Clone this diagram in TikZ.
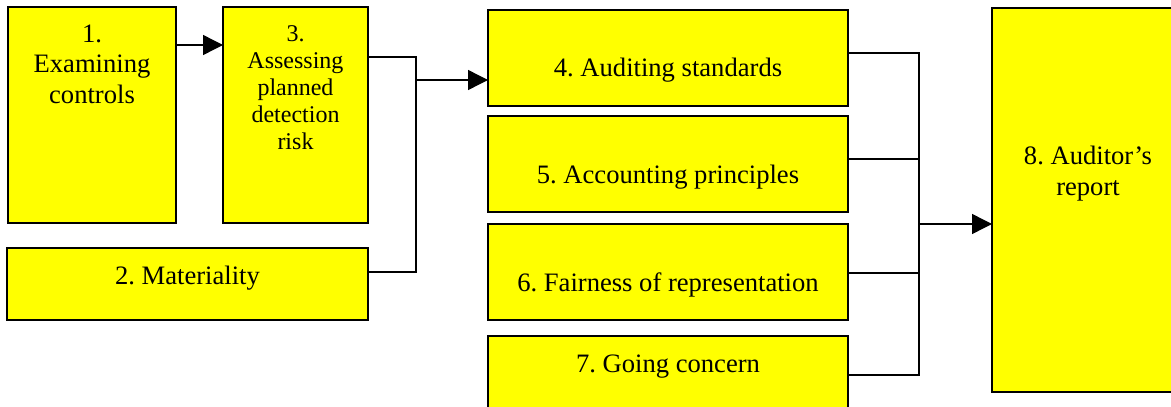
\documentclass[tikz,border=0pt]{standalone}
\usepackage{fontspec}
\setmainfont{Liberation Serif}
\usetikzlibrary{arrows.meta}
\definecolor{boxyellow}{RGB}{255,255,0}
\begin{document}
\frenchspacing
\begin{tikzpicture}[x=1pt,y=-1pt,
  box/.style={draw=black, line width=2.2pt, fill=boxyellow, anchor=north west,
    inner sep=0pt, outer sep=0pt},
  lbl/.style={anchor=base, inner sep=0pt, align=center,
    font=\fontsize{26.6}{30.5}\selectfont},
  small/.style={font=\fontsize{24}{27}\selectfont},
  wire/.style={line width=1.4pt},
  arr/.style={wire, -{Triangle[length=20pt,width=20pt]}}]
\useasboundingbox (0,0) rectangle (1171,407);
\clip (0,0) rectangle (1171,407);

% boxes
\node[box, minimum width=168pt, minimum height=216pt] (b1) at (8,7) {};
\node[box, minimum width=145pt, minimum height=216pt] (b3) at (223,7) {};
\node[box, minimum width=361pt, minimum height=72pt] (b2) at (7,248) {};
\node[box, minimum width=360pt, minimum height=96pt] (b4) at (488,10) {};
\node[box, minimum width=360pt, minimum height=96pt] (b5) at (488,116) {};
\node[box, minimum width=360pt, minimum height=96pt] (b6) at (488,224) {};
\node[box, minimum width=360pt, minimum height=96pt] (b7) at (488,336) {};
\node[box, minimum width=200pt, minimum height=384pt] (b8) at (992,8) {};

% labels (base anchor sits on the last line)
\node[lbl] (t1) at (92,103) {1.\\Examining\\controls};
\node[lbl, small] (t3) at (295.5,149) {3.\\Assessing\\planned\\detection\\risk};
\node[lbl] (t2) at (187.5,284) {2. Materiality};
\node[lbl] (t4) at (668,76) {4. Auditing standards};
\node[lbl] (t5) at (668,183) {5. Accounting principles};
\node[lbl] (t6) at (668,291) {6. Fairness of representation};
\node[lbl] (t7) at (668,372) {7. Going concern};
\node[lbl] (t8) at (1088,195) {8. Auditor’s\\report};

% left connectors
\coordinate (a1) at ([yshift=-38pt]b1.north east);
\draw[arr] (a1) -- (b3.west |- a1);
\coordinate (jB) at (416,272);
\coordinate (jC) at (416,80);
\draw[wire] ([yshift=-50pt]b3.north east) -| (jB) -- (b2.east |- jB);
\draw[arr] (jC) -- (b4.west |- jC);

% right bus
\coordinate (k4) at ([yshift=-43pt]b4.north east);
\coordinate (k5) at ([yshift=-43pt]b5.north east);
\coordinate (k6) at ([yshift=-49pt]b6.north east);
\coordinate (k7) at ([yshift=-39pt]b7.north east);
\coordinate (bt) at (919,53);
\coordinate (bm) at (919,224);
\draw[wire] (k4) -- (bt) -- (bt |- k7) -- (k7);
\draw[wire] (k5) -- (bt |- k5);
\draw[wire] (k6) -- (bt |- k6);
\draw[arr] (bm) -- (b8.west |- bm);
\end{tikzpicture}
\end{document}
